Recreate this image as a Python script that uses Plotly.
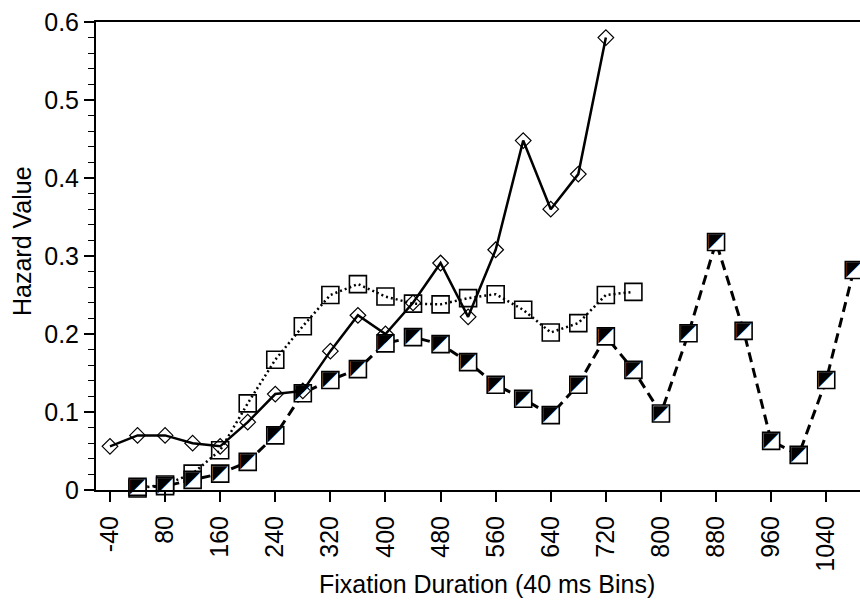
import plotly.graph_objects as go

# Bin positions (ms) and hazard values
diamond_x = [0, 40, 80, 120, 160, 200, 240, 280, 320, 360, 400, 440, 480, 520, 560, 600, 640, 680, 720]
diamond_y = [0.056, 0.070, 0.070, 0.060, 0.056, 0.087, 0.123, 0.127, 0.178, 0.224, 0.200, 0.240,
             0.291, 0.222, 0.308, 0.448, 0.360, 0.405, 0.580]

open_x = [40, 80, 120, 160, 200, 240, 280, 320, 360, 400, 440, 480, 520, 560, 600, 640, 680, 720, 760]
open_y = [0.002, 0.007, 0.021, 0.051, 0.111, 0.167, 0.210, 0.250, 0.264, 0.248, 0.239, 0.238,
          0.246, 0.251, 0.231, 0.202, 0.214, 0.250, 0.254]

half_x = [40, 80, 120, 160, 200, 240, 280, 320, 360, 400, 440, 480, 520, 560, 600, 640, 680,
          720, 760, 800, 840, 880, 920, 960, 1000, 1040, 1080]
half_y = [0.004, 0.005, 0.013, 0.021, 0.036, 0.070, 0.124, 0.141, 0.155, 0.188, 0.196, 0.187,
          0.164, 0.135, 0.117, 0.096, 0.135, 0.197, 0.154, 0.098, 0.201, 0.318, 0.204, 0.063,
          0.045, 0.141, 0.282]

tick_vals = [0, 80, 160, 240, 320, 400, 480, 560, 640, 720, 800, 880, 960, 1040]
tick_text = ["-40", "80", "160", "240", "320", "400", "480", "560", "640", "720", "800", "880", "960", "1040"]

x_title = "Fixation Duration (40 ms Bins)"
y_title = "Hazard Value"

FONT = "Liberation Sans, Arial, sans-serif"
FS = 25

fig = go.Figure()

# dotted open squares
fig.add_trace(go.Scatter(
    x=open_x, y=open_y, mode="lines+markers",
    line=dict(color="black", width=2.5, dash="2px,3px"),
    marker=dict(symbol="square-open", size=17, color="black", line=dict(width=1.6)),
    cliponaxis=False, showlegend=False, hoverinfo="skip"))

# dashed half-filled squares
fig.add_trace(go.Scatter(
    x=half_x, y=half_y, mode="lines+markers",
    line=dict(color="black", width=3, dash="10px,6px"),
    marker=dict(symbol="square", size=17, color="white", line=dict(width=1.6, color="black")),
    cliponaxis=False, showlegend=False, hoverinfo="skip"))
fig.add_trace(go.Scatter(
    x=half_x, y=half_y, mode="text", text=["◤"] * len(half_x),
    textposition="middle center",
    textfont=dict(family="DejaVu Sans", size=20, color="black"),
    cliponaxis=False, showlegend=False, hoverinfo="skip"))

# solid diamonds
fig.add_trace(go.Scatter(
    x=diamond_x, y=diamond_y, mode="lines+markers",
    line=dict(color="black", width=2.5),
    marker=dict(symbol="diamond-open", size=12, color="black", line=dict(width=1.2)),
    cliponaxis=False, showlegend=False, hoverinfo="skip"))

fig.update_layout(
    width=860, height=607,
    margin=dict(l=96, r=0, t=22, b=117),
    paper_bgcolor="white", plot_bgcolor="white",
    font=dict(family=FONT, size=FS, color="black"),
    xaxis=dict(
        range=[-20.3, 1089], tickmode="array", tickvals=tick_vals, ticktext=tick_text,
        tickangle=-90, ticks="outside", ticklen=10, tickwidth=1.5, tickcolor="black",
        ticklabelstandoff=4,
        showline=True, linecolor="black", linewidth=2, mirror=True,
        showgrid=False, zeroline=False, automargin=False,
        tickfont=dict(size=FS)),
    yaxis=dict(
        range=[0, 0.6], dtick=0.1, tick0=0,
        ticks="outside", ticklen=10, tickwidth=1.5, tickcolor="black",
        minor=dict(dtick=0.02, ticks="outside", ticklen=6, tickwidth=1, tickcolor="black"),
        showline=True, linecolor="black", linewidth=2,
        showgrid=False, zeroline=False, automargin=False,
        tickfont=dict(size=FS)),
    annotations=[
        dict(text=x_title, xref="paper", yref="paper", x=0.5118, y=-0.2009,
             xanchor="center", yanchor="middle", showarrow=False, font=dict(size=FS)),
        dict(text=y_title, xref="paper", yref="paper", x=-0.0969, y=0.532, textangle=-90,
             xanchor="center", yanchor="middle", showarrow=False, font=dict(size=FS)),
    ],
)

fig.write_html("out.html")
